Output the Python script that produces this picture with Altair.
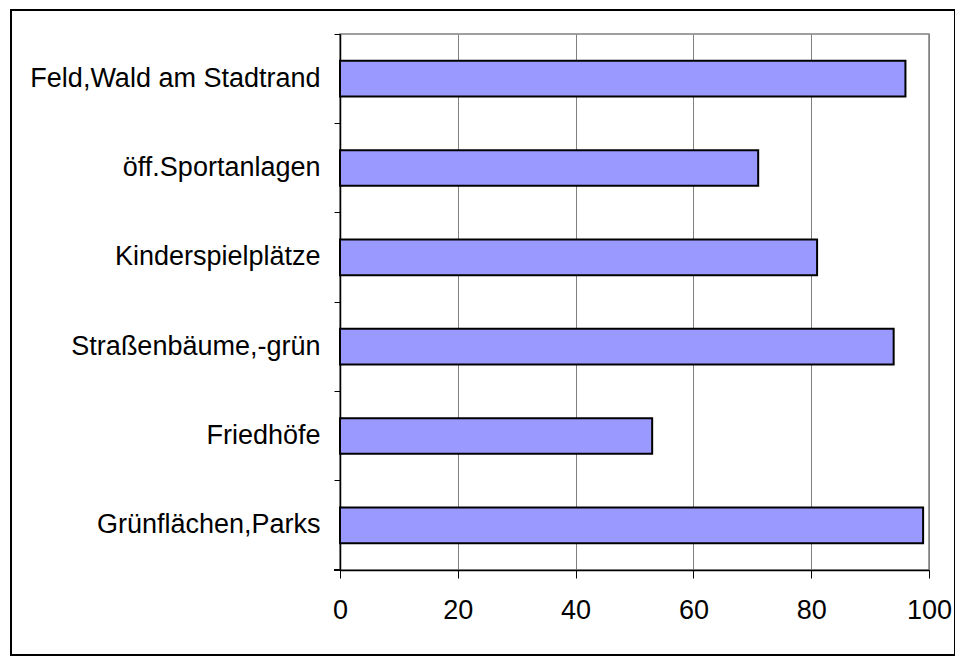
import altair as alt
import pandas as pd

categories = ["Feld,Wald am Stadtrand", "öff.Sportanlagen", "Kinderspielplätze",
              "Straßenbäume,-grün", "Friedhöfe", "Grünflächen,Parks"]
values = [96, 71, 81, 94, 53, 99]
x_ticks = [0, 20, 40, 60, 80, 100]

df = pd.DataFrame({"cat": categories, "val": values})

FONT = "Liberation Sans Narrow, Liberation Sans, Arial, sans-serif"
W, H = 589, 536

bars = alt.Chart(df).mark_bar(
    fill="#9999FF", stroke="black", strokeWidth=2,
    height=alt.RelativeBandSize(0.4)
).encode(
    x=alt.X("val:Q", scale=alt.Scale(domain=[0, 100], nice=False),
            axis=alt.Axis(values=x_ticks, title=None, grid=True, gridColor="#808080",
                          gridWidth=1, domainColor="black", domainWidth=1.5,
                          tickColor="black", tickSize=8, labelFontSize=27,
                          labelFont=FONT, labelColor="black", labelPadding=19,
                          labelFlush=False)),
    y=alt.Y("cat:N", sort=categories,
            scale=alt.Scale(paddingInner=0, paddingOuter=0),
            axis=alt.Axis(title=None, bandPosition=0, domainColor="black", domainWidth=1.5,
                          tickColor="black", tickSize=6, labelFontSize=27,
                          labelFont=FONT, labelColor="black", labelPadding=14,
                          labelLimit=400, grid=False))
)

bottom_tick = alt.Chart(df).mark_rule(color="black", strokeWidth=1.5).encode(
    x=alt.value(-6), x2=alt.value(0), y=alt.value(H)
)

border = alt.Chart(df).mark_rect(fill=None, stroke="black", strokeWidth=1.5).encode(
    x=alt.value(-329), x2=alt.value(615), y=alt.value(-24), y2=alt.value(621)
)

chart = alt.layer(bars, bottom_tick, border).properties(
    width=W, height=H,
    autosize=alt.AutoSizeParams(type="none"),
    padding={"left": 332, "top": 26, "right": 26, "bottom": 88},
    background="white"
).configure_view(stroke="#808080", strokeWidth=1.5)

chart.save("out.html", embed_options={"renderer": "svg", "actions": False})
